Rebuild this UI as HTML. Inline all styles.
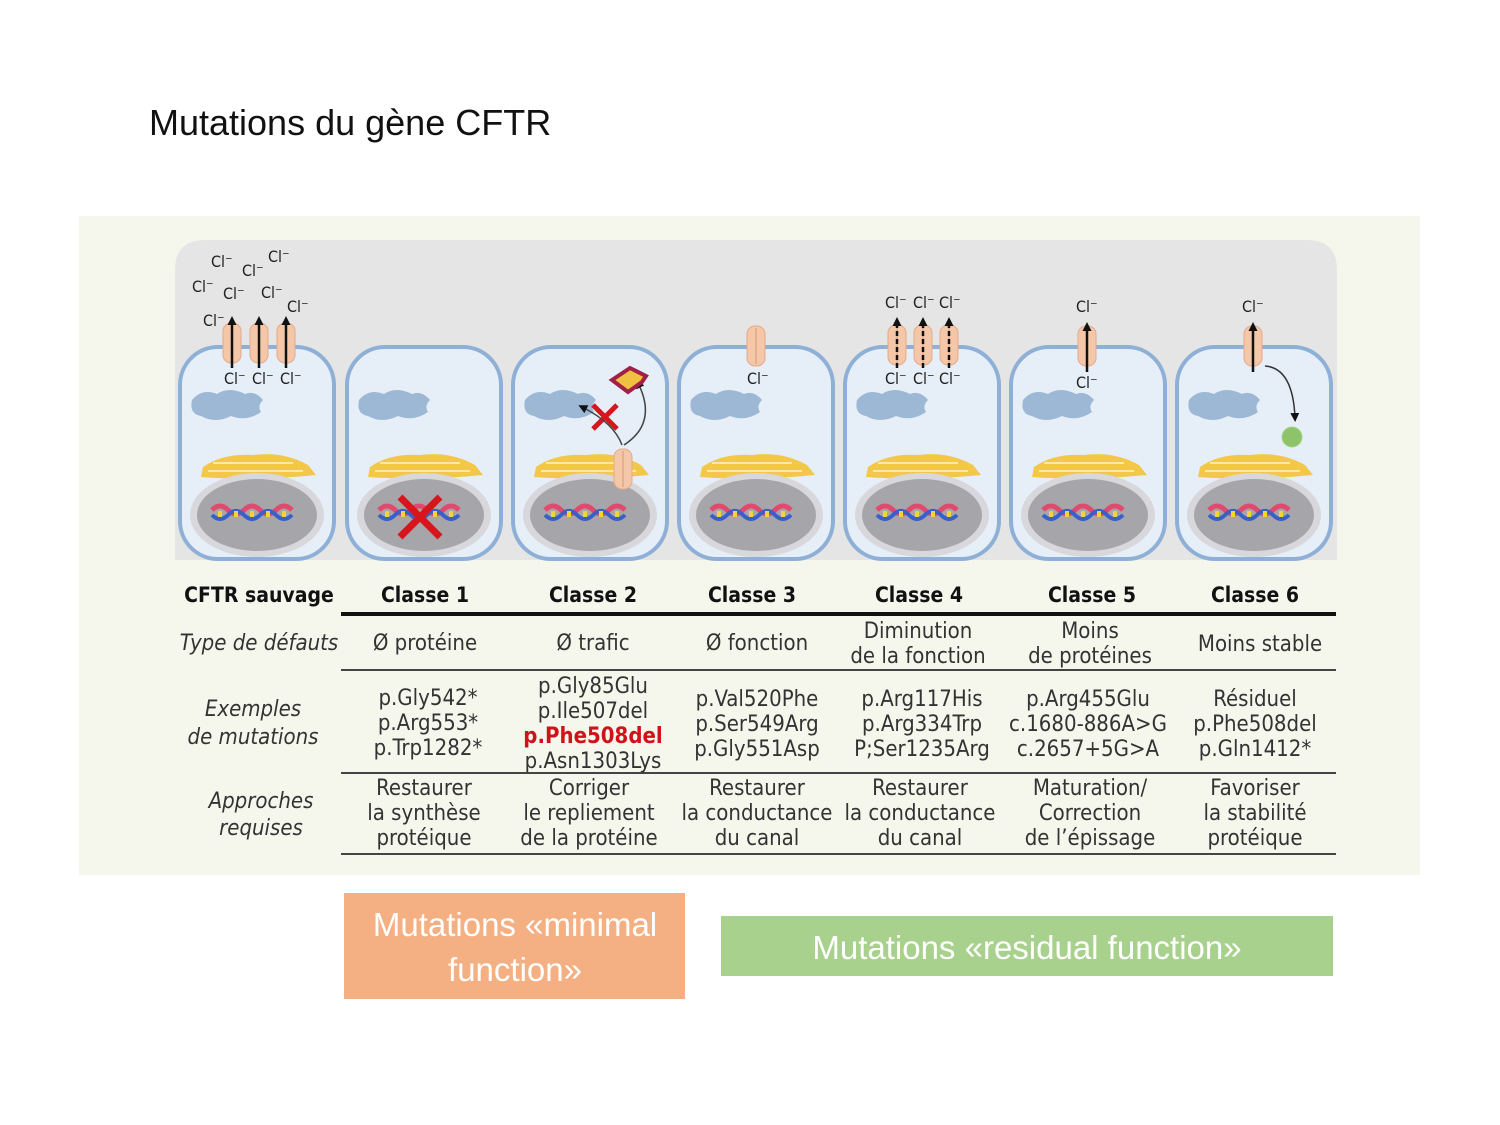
<!DOCTYPE html>
<html><head><meta charset="utf-8">
<style>
html,body{margin:0;padding:0;background:#fff;width:1500px;height:1125px;overflow:hidden}
svg{display:block}
.t{font-family:"Liberation Sans Narrow","DejaVu Sans Condensed","Liberation Sans",sans-serif;fill:#333;font-size:22px;text-anchor:middle}
.h{font-weight:bold;fill:#111;font-size:21px}
.i{font-style:italic}
.cl{font-family:"Liberation Sans Narrow","DejaVu Sans Condensed","Liberation Sans",sans-serif;font-size:16px;fill:#222}
</style></head><body>
<svg width="1500" height="1125" viewBox="0 0 1500 1125" xmlns="http://www.w3.org/2000/svg">
<defs>
<marker id="ah" markerUnits="userSpaceOnUse" markerWidth="9" markerHeight="9" refX="5" refY="4.5" orient="auto"><path d="M0,0 L9,4.5 L0,9 Z" fill="#111"/></marker>
<g id="cell">
 <rect x="2" y="2" width="154" height="212" rx="38" fill="#e6eef8" stroke="#8fb0d6" stroke-width="4"/>
 <path d="M14,55 q10,-12 25,-6 q12,-8 28,0 q10,-4 18,6 q-6,6 -2,12 q-14,10 -30,4 q-16,8 -30,0 q-12,-2 -9,-16z" fill="#9db8d4"/>
 <path d="M25,122 q20,-14 50,-12 q30,-4 55,10 l8,10 q-60,6 -115,2z" fill="#f2c74a"/>
 <path d="M35,118 h80 M30,126 h95" stroke="#fbe9a8" stroke-width="2"/>
 <ellipse cx="79" cy="170" rx="67" ry="42" fill="#d8d8dc"/>
 <ellipse cx="79" cy="170" rx="60" ry="36" fill="#a6a6aa"/>
 <path d="M34,165 q8,-8 16,0 t16,0 t16,0 t16,0 t16,0" stroke="#e04a6c" stroke-width="5" fill="none"/>
 <path d="M34,170 q8,8 16,0 t16,0 t16,0 t16,0 t16,0" stroke="#3a5fc8" stroke-width="4" fill="none"/>
 <path d="M42,166 v6 M58,166 v6 M74,166 v6 M90,166 v6 M106,166 v6" stroke="#f3d23c" stroke-width="4"/>
</g>
<g id="chan"><rect x="-9" y="-20" width="18" height="40" rx="8" fill="#f4c7a8" stroke="#e5a98a"/><line x1="0" y1="-18" x2="0" y2="18" stroke="#d9977a"/></g>
</defs>
<text x="149" y="135" font-family="Liberation Sans,sans-serif" font-size="36" fill="#111">Mutations du gène CFTR</text>
<rect x="79" y="216" width="1341" height="659" fill="#f5f7ed"/>
<path d="M175,560 V270 q0,-30 30,-30 H1307 q30,0 30,30 V560 Z" fill="#e5e5e5"/>
<use href="#cell" x="178" y="345"/>
<use href="#cell" x="345" y="345"/>
<use href="#cell" x="511" y="345"/>
<use href="#cell" x="677" y="345"/>
<use href="#cell" x="843" y="345"/>
<use href="#cell" x="1009" y="345"/>
<use href="#cell" x="1175" y="345"/>
<!-- wild type -->
<use href="#chan" x="232" y="343"/><use href="#chan" x="259" y="343"/><use href="#chan" x="286" y="343"/>
<g stroke="#111" stroke-width="2.5" marker-end="url(#ah)"><line x1="232" y1="368" x2="232" y2="320"/><line x1="259" y1="368" x2="259" y2="320"/><line x1="286" y1="368" x2="286" y2="320"/></g>
<g class="cl"><text x="211" y="267">Cl⁻</text><text x="242" y="276">Cl⁻</text><text x="268" y="262">Cl⁻</text><text x="192" y="292">Cl⁻</text><text x="223" y="299">Cl⁻</text><text x="261" y="298">Cl⁻</text><text x="287" y="312">Cl⁻</text><text x="203" y="326">Cl⁻</text>
<text x="224" y="384">Cl⁻</text><text x="252" y="384">Cl⁻</text><text x="280" y="384">Cl⁻</text></g>
<!-- classe 1 X -->
<path d="M400,497 l40,40 M440,497 l-40,40" stroke="#d8151c" stroke-width="7"/>
<!-- classe 2 -->
<use href="#chan" x="623" y="469"/>
<path d="M593,405 l24,24 M617,405 l-24,24" stroke="#d8151c" stroke-width="5"/>
<path d="M622,445 q-8,-22 -40,-38" stroke="#444" stroke-width="1.5" fill="none" marker-end="url(#ah)"/>
<path d="M624,445 q34,-22 14,-62" stroke="#444" stroke-width="1.5" fill="none" marker-end="url(#ah)"/>
<path d="M612,380 l18,-12 l16,8 l-4,6 l-14,10z" fill="#f0c040" stroke="#a0204a" stroke-width="4"/>
<!-- classe 3 -->
<use href="#chan" x="756" y="346"/>
<text class="cl" x="747" y="384">Cl⁻</text>
<!-- classe 4 -->
<use href="#chan" x="897" y="345"/><use href="#chan" x="923" y="345"/><use href="#chan" x="949" y="345"/>
<g stroke="#111" stroke-width="2.5" stroke-dasharray="5,3" marker-end="url(#ah)"><line x1="897" y1="368" x2="897" y2="321"/><line x1="923" y1="368" x2="923" y2="321"/><line x1="949" y1="368" x2="949" y2="321"/></g>
<g class="cl"><text x="885" y="308">Cl⁻</text><text x="913" y="308">Cl⁻</text><text x="939" y="308">Cl⁻</text><text x="885" y="384">Cl⁻</text><text x="913" y="384">Cl⁻</text><text x="939" y="384">Cl⁻</text></g>
<!-- classe 5 -->
<use href="#chan" x="1087" y="346"/>
<line x1="1087" y1="372" x2="1087" y2="326" stroke="#111" stroke-width="2.5" marker-end="url(#ah)"/>
<text class="cl" x="1076" y="312">Cl⁻</text><text class="cl" x="1076" y="388">Cl⁻</text>
<!-- classe 6 -->
<use href="#chan" x="1253" y="346"/>
<line x1="1253" y1="372" x2="1253" y2="326" stroke="#111" stroke-width="2.5" marker-end="url(#ah)"/>
<text class="cl" x="1242" y="312">Cl⁻</text>
<path d="M1265,366 q28,2 30,52" stroke="#333" stroke-width="1.5" fill="none" marker-end="url(#ah)"/>
<circle cx="1292" cy="437" r="10" fill="#8fc36a" stroke="#a8d48a"/>
<!-- table -->
<g class="t h">
<text x="259" y="602">CFTR sauvage</text><text x="425" y="602">Classe 1</text><text x="593" y="602">Classe 2</text><text x="752" y="602">Classe 3</text><text x="919" y="602">Classe 4</text><text x="1092" y="602">Classe 5</text><text x="1255" y="602">Classe 6</text>
</g>
<line x1="341" y1="614" x2="1336" y2="614" stroke="#111" stroke-width="4"/>
<line x1="341" y1="670" x2="1336" y2="670" stroke="#444" stroke-width="2"/>
<line x1="341" y1="773" x2="1336" y2="773" stroke="#444" stroke-width="2"/>
<line x1="341" y1="854" x2="1336" y2="854" stroke="#444" stroke-width="2"/>
<g class="t">
<text class="i" x="259" y="650">Type de défauts</text>
<text x="425" y="650">Ø protéine</text><text x="593" y="650">Ø trafic</text><text x="757" y="650">Ø fonction</text>
<text x="918" y="638">Diminution</text><text x="918" y="663">de la fonction</text>
<text x="1090" y="638">Moins</text><text x="1090" y="663">de protéines</text>
<text x="1260" y="651">Moins stable</text>
<text class="i" x="253" y="716">Exemples</text><text class="i" x="253" y="744">de mutations</text>
<text x="428" y="705">p.Gly542*</text><text x="428" y="730">p.Arg553*</text><text x="428" y="755">p.Trp1282*</text>
<text x="593" y="693">p.Gly85Glu</text><text x="593" y="718">p.Ile507del</text><text x="593" y="743" style="fill:#d0121b;font-weight:bold">p.Phe508del</text><text x="593" y="768">p.Asn1303Lys</text>
<text x="757" y="706">p.Val520Phe</text><text x="757" y="731">p.Ser549Arg</text><text x="757" y="756">p.Gly551Asp</text>
<text x="922" y="706">p.Arg117His</text><text x="922" y="731">p.Arg334Trp</text><text x="922" y="756">P;Ser1235Arg</text>
<text x="1088" y="706">p.Arg455Glu</text><text x="1088" y="731">c.1680-886A&gt;G</text><text x="1088" y="756">c.2657+5G&gt;A</text>
<text x="1255" y="706">Résiduel</text><text x="1255" y="731">p.Phe508del</text><text x="1255" y="756">p.Gln1412*</text>
<text class="i" x="261" y="808">Approches</text><text class="i" x="261" y="835">requises</text>
<text x="424" y="795">Restaurer</text><text x="424" y="820">la synthèse</text><text x="424" y="845">protéique</text>
<text x="589" y="795">Corriger</text><text x="589" y="820">le repliement</text><text x="589" y="845">de la protéine</text>
<text x="757" y="795">Restaurer</text><text x="757" y="820">la conductance</text><text x="757" y="845">du canal</text>
<text x="920" y="795">Restaurer</text><text x="920" y="820">la conductance</text><text x="920" y="845">du canal</text>
<text x="1090" y="795">Maturation/</text><text x="1090" y="820">Correction</text><text x="1090" y="845">de l’épissage</text>
<text x="1255" y="795">Favoriser</text><text x="1255" y="820">la stabilité</text><text x="1255" y="845">protéique</text>
</g>
<rect x="344" y="893" width="341" height="106" fill="#f4b083"/>
<g font-family="Liberation Sans Narrow,Liberation Sans,sans-serif" font-size="33" fill="#fff" text-anchor="middle">
<text x="515" y="936">Mutations «minimal</text><text x="515" y="981">function»</text>
</g>
<rect x="721" y="916" width="612" height="60" fill="#a9d18e"/>
<text x="1027" y="959" font-family="Liberation Sans Narrow,Liberation Sans,sans-serif" font-size="33" fill="#fff" text-anchor="middle">Mutations «residual function»</text>
</svg>
</body></html>
